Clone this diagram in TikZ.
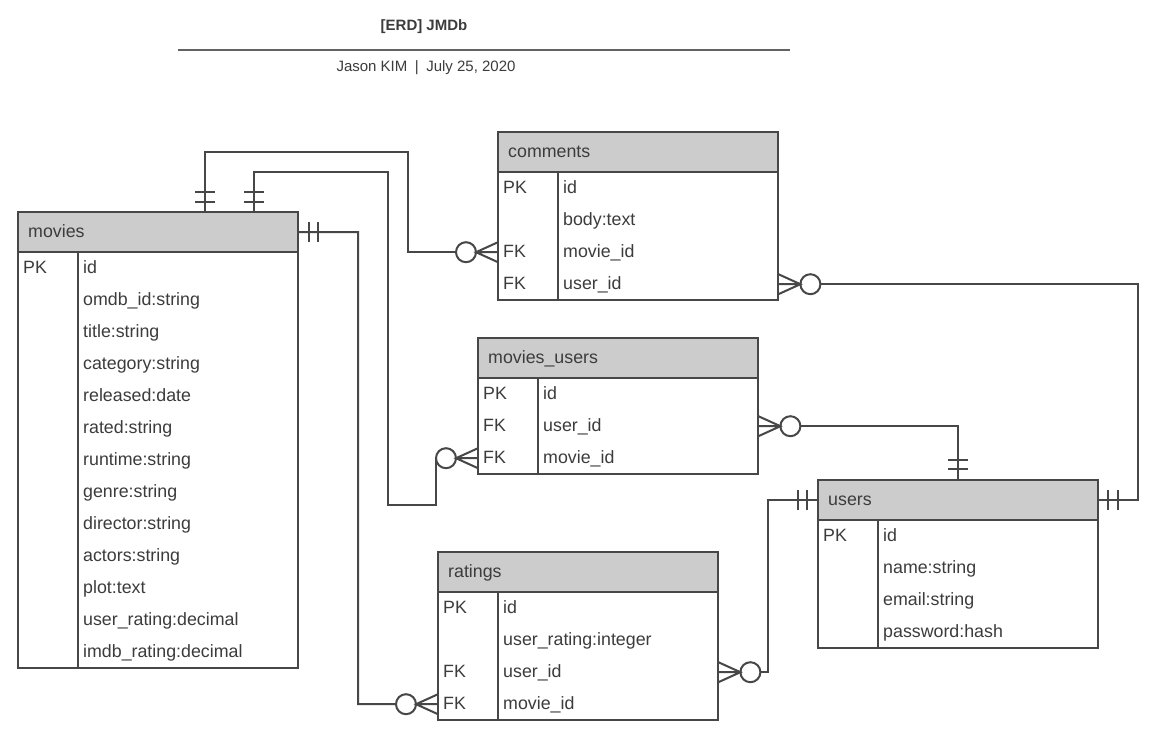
\documentclass[tikz,border=0pt]{standalone}
\usepackage{fontspec}
\setmainfont{Liberation Sans}
\usetikzlibrary{calc}
\definecolor{linec}{HTML}{474747}
\definecolor{txtc}{HTML}{3C3C3C}
\definecolor{hdrc}{HTML}{CCCCCC}
\tikzset{
  ent/.style={draw=linec, line width=2pt},
  conn/.style={draw=linec, line width=2pt},
  rowbox/.style={rectangle, anchor=north west, minimum width=280pt, minimum height=32pt, inner sep=0pt},
  cell/.style={anchor=base west, inner sep=0pt, text=txtc, font=\fontsize{17.8}{20}\selectfont},
}
\newcommand\ertable[6]{%
  \fill[hdrc] (#3,#4) rectangle ++(280,40);
  \node[rowbox, minimum height=40pt] (#1) at (#3,#4) {};
  \node[cell] at ([xshift=10pt,yshift=-5.5pt]#1.west) {#2};
  \foreach [count=\i] \k/\f in {#6} {
    \node[rowbox] (#1-\i) at (#3,{#4+8+32*\i}) {};
    \node[cell] at ([xshift=5pt,yshift=-5.5pt]#1-\i.west) {\k};
    \node[cell] at ([xshift=65pt,yshift=-5.5pt]#1-\i.west) {\f};
  }
  \draw[ent] (#3,#4) rectangle ({#3+280},{#4+40+32*#5});
  \draw[ent] (#3,{#4+40}) -- ({#3+280},{#4+40});
  \draw[ent] ({#3+60},{#4+40}) -- ({#3+60},{#4+40+32*#5});
}
\newcommand\manyL[1]{%
  \filldraw[conn, fill=white] ([xshift=-32pt]#1) circle (10pt);
  \draw[conn] ([yshift=10pt]#1) -- ([xshift=-22pt]#1) -- ([yshift=-10pt]#1)
              ([xshift=-22pt]#1) -- (#1);
}
\newcommand\manyR[1]{%
  \filldraw[conn, fill=white] ([xshift=32pt]#1) circle (10pt);
  \draw[conn] ([yshift=10pt]#1) -- ([xshift=22pt]#1) -- ([yshift=-10pt]#1)
              ([xshift=22pt]#1) -- (#1);
}
\newcommand\tickH[2]{\draw[conn] ([xshift=-10pt,yshift=#2]#1) -- ([xshift=10pt,yshift=#2]#1);}
\newcommand\tickV[2]{\draw[conn] ([xshift=#2,yshift=-10pt]#1) -- ([xshift=#2,yshift=10pt]#1);}
\begin{document}
\begin{tikzpicture}[x=1pt,y=-1pt]
\useasboundingbox[fill=white] (0,0) rectangle (1152,742);
% title
\node[text=txtc, font=\bfseries\fontsize{15}{18}\selectfont] (title) at (424,27) {[ERD] JMDb};
\draw[line width=2pt, draw=linec!85] (178,50) -- (790,50);
\node[text=txtc, font=\fontsize{15}{18}\selectfont] (sub) at (426,68) {Jason KIM\enspace|\enspace July 25, 2020};

\ertable{movies}{movies}{18}{212}{13}{PK/id, {}/omdb\_id:string, {}/title:string, {}/category:string, {}/released:date, {}/rated:string, {}/runtime:string, {}/genre:string, {}/director:string, {}/actors:string, {}/plot:text, {}/user\_rating:decimal, {}/imdb\_rating:decimal}
\ertable{comments}{comments}{498}{132}{4}{PK/id, {}/body:text, FK/movie\_id, FK/user\_id}
\ertable{mu}{movies\_users}{478}{338}{3}{PK/id, FK/user\_id, FK/movie\_id}
\ertable{users}{users}{818}{480}{4}{PK/id, {}/name:string, {}/email:string, {}/password:hash}
\ertable{ratings}{ratings}{438}{552}{4}{PK/id, {}/user\_rating:integer, FK/user\_id, FK/movie\_id}

\coordinate (mt1) at ([xshift=187pt]movies.north west);
\coordinate (mt2) at ([xshift=236pt]movies.north west);

% movies -> comments
\draw[conn] (mt1) |- (408,152) |- ([xshift=-42pt]comments-3.west);
\manyL{comments-3.west}
\tickH{mt1}{10pt}\tickH{mt1}{20pt}
% movies -> movies_users
\draw[conn] (mt2) |- (388,172) |- (436,505) -- ([xshift=-42pt]mu-3.west);
\manyL{mu-3.west}
\tickH{mt2}{10pt}\tickH{mt2}{20pt}
% movies -> ratings
\draw[conn] (movies.east) -- (358,232) |- ([xshift=-42pt]ratings-4.west);
\manyL{ratings-4.west}
\tickV{movies.east}{11pt}\tickV{movies.east}{20pt}
% comments -> users
\draw[conn] ([xshift=42pt]comments-4.east) -| ([xshift=40pt]users.east) -- (users.east);
\manyR{comments-4.east}
\tickV{users.east}{10pt}\tickV{users.east}{20pt}
% movies_users -> users
\draw[conn] ([xshift=42pt]mu-2.east) -| (users.north);
\manyR{mu-2.east}
\tickH{users.north}{11pt}\tickH{users.north}{20pt}
% ratings -> users
\draw[conn] ([xshift=42pt]ratings-3.east) -- ++(8,0) |- (users.west);
\manyR{ratings-3.east}
\tickV{users.west}{-11pt}\tickV{users.west}{-20pt}
\end{tikzpicture}
\end{document}
